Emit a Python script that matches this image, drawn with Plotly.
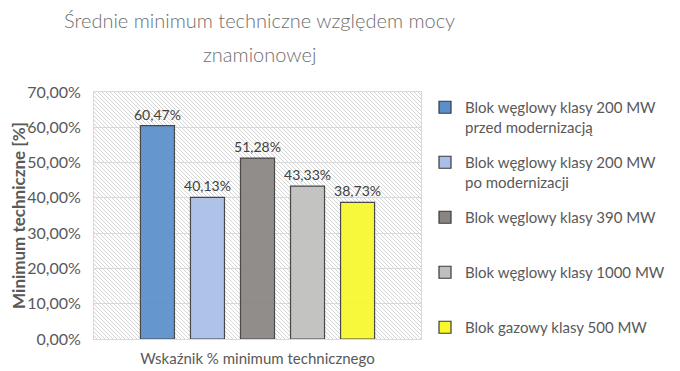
import base64
import plotly.graph_objects as go

category = ["Wskaźnik % minimum technicznego"]
series_names = [
    "Blok węglowy klasy 200 MW<br>przed modernizacją",
    "Blok węglowy klasy 200 MW<br>po modernizacji",
    "Blok węglowy klasy 390 MW<br> ",
    "Blok węglowy klasy 1000 MW<br> ",
    "Blok gazowy klasy 500 MW<br> ",
]
series_values = [0.6047, 0.4013, 0.5128, 0.4333, 0.3873]
series_colors = ["#5a8fca", "#a9bfe7", "#8a8583", "#c0bfbe", "#f8f82c"]
y_ticks = [0, 0.1, 0.2, 0.3, 0.4, 0.5, 0.6, 0.7]
title_lines = ["Średnie minimum techniczne względem mocy", "znamionowej"]

# page has an 8px body margin -> figure is 672x363 inside the 680x371 window
W, H = 672, 363
L, T = 86, 84
pw, ph = 327, 247
R, B = W - L - pw, H - T - ph

svg = f'''<svg xmlns="http://www.w3.org/2000/svg" width="{pw}" height="{ph}" viewBox="0 0 {pw} {ph}">
<defs><pattern id="p" patternUnits="userSpaceOnUse" width="4" height="4">
<path d="M-1,-1 L5,5 M-1,3 L1,5 M3,-1 L5,1" stroke="#cfcfcf" stroke-width="0.9"/>
</pattern></defs>
<rect width="{pw}" height="{ph}" fill="#ffffff"/>
<rect width="{pw}" height="{ph}" fill="url(#p)"/>
</svg>'''
src = "data:image/svg+xml;base64," + base64.b64encode(svg.encode()).decode()

fig = go.Figure()
for name, val, col in zip(series_names, series_values, series_colors):
    fig.add_trace(go.Bar(
        x=category, y=[val], name=name, legendgroup=name,
        marker=dict(color=col, opacity=0.92, line=dict(color="#3a3a3a", width=1.2)),
        texttemplate="%{y:.2%}", textposition="outside", constraintext="none",
        textfont=dict(family="Lato", size=14, color="#404040"),
        cliponaxis=False,
    ))

title_font = dict(family="Lato", size=20, color="#6e6e6e", weight=300)
annotations = [
    dict(text=title_lines[0], xref="paper", yref="paper",
         x=(251 - L) / pw, y=1 + (T - 12) / ph, xanchor="center", yanchor="middle",
         showarrow=False, font=title_font),
    dict(text=title_lines[1], xref="paper", yref="paper",
         x=(251 - L) / pw, y=1 + (T - 46) / ph, xanchor="center", yanchor="middle",
         showarrow=False, font=title_font),
]

fig.update_layout(
    width=W, height=H,
    margin=dict(l=L, r=R, t=T, b=B, autoexpand=False),
    paper_bgcolor="white", plot_bgcolor="rgba(0,0,0,0)",
    separators=", ",
    barmode="group", bargap=0.235, bargroupgap=0.32,
    font=dict(family="Lato", color="#595959"),
    annotations=annotations,
    images=[dict(source=src, xref="paper", yref="paper", x=0, y=1,
                 sizex=1, sizey=1, xanchor="left", yanchor="top",
                 sizing="stretch", layer="below")],
    showlegend=True,
    legend=dict(
        x=(417 - L) / pw, xanchor="left", y=1 + 1 / ph, yanchor="top",
        valign="top", tracegroupgap=13, itemwidth=30, maxheight=340,
        font=dict(family="Lato", size=15, color="#595959"),
        bgcolor="rgba(0,0,0,0)",
    ),
    xaxis=dict(
        showgrid=False, showline=True, linecolor="#d9d9d9",
        tickfont=dict(family="Lato", size=15, color="#595959"),
        mirror=True, ticks="", ticklabelstandoff=6,
    ),
    yaxis=dict(
        range=[0, 0.7], tickvals=y_ticks, tickformat=".2%",
        showgrid=True, gridcolor="#d9d9d9", gridwidth=1,
        showline=True, linecolor="#d9d9d9", mirror=True,
        zeroline=False, ticklabelstandoff=9,
        tickfont=dict(family="Lato", size=16, color="#595959"),
        title=dict(text="<b>Minimum techniczne [%]</b>", standoff=3,
                   font=dict(family="Lato", size=17, color="#595959")),
    ),
)

fig.write_html("out.html")
